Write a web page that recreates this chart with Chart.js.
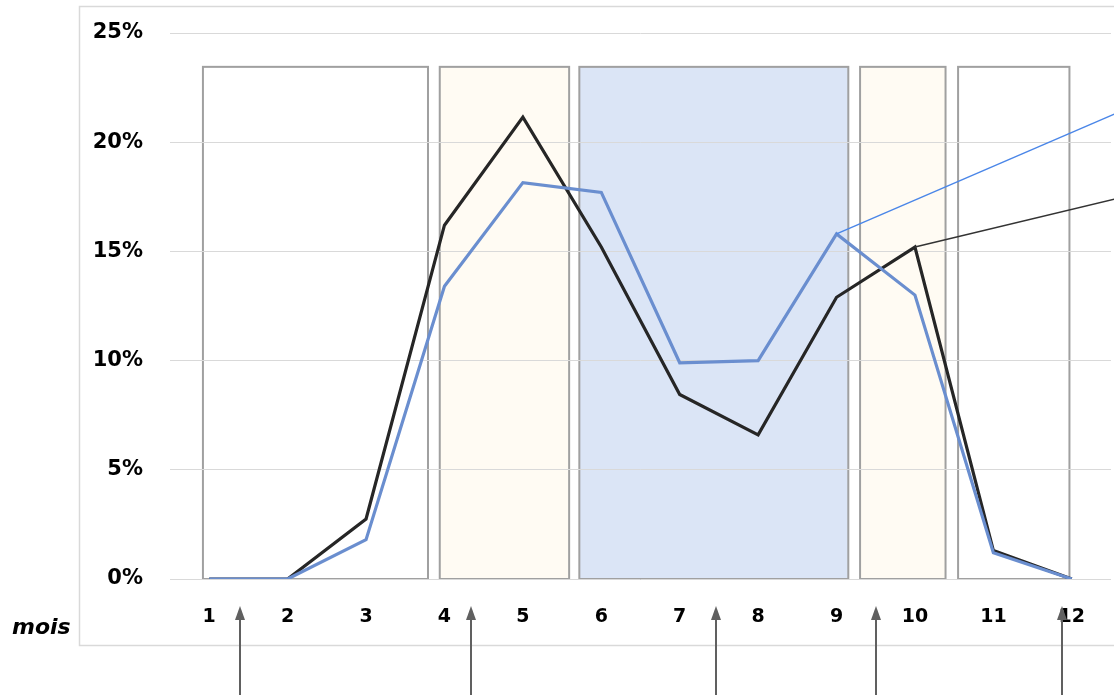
<!DOCTYPE html>
<html lang="fr">
<head>
<meta charset="UTF-8">
<title>Répartition mensuelle</title>
<style>
  html, body { margin: 0; padding: 0; background: #fff; }
  canvas { display: block; }
</style>
</head>
<body>
<canvas id="chart" width="1114" height="700"></canvas>

<script src="https://cdn.jsdelivr.net/npm/chart.js"></script>
<script>
// mois de l'année
const months = ['1', '2', '3', '4', '5', '6', '7', '8', '9', '10', '11', '12'];

// part mensuelle (%) des deux séries
const serieNoire = [0, 0, 2.75, 16.2, 21.15, 15.2, 8.45, 6.6, 12.9, 15.2, 1.3, 0];
const serieBleue = [0, 0, 1.8, 13.4, 18.15, 17.7, 9.9, 10.0, 15.8, 13.0, 1.2, 0];

const yTicks = [0, 5, 10, 15, 20, 25];

// périodes encadrées, en mois (début / fin) et leur teinte
const periodStart = [0.92, 3.94, 5.72, 9.30, 10.55];
const periodEnd   = [3.79, 5.59, 9.15, 10.39, 11.97];
const periodKind  = ['blanc', 'sable', 'bleu', 'sable', 'blanc'];
const periodTop = 23.45;

// flèches sous l'axe des mois
const arrowMonths = [1.39, 4.34, 7.46, 9.50, 11.87];

// traits de rappel : du point (mois, valeur) vers la marge droite
const leaderFrom  = [[9, 15.8], [10, 15.2]];
const leaderTo    = [[12.55, 21.3], [12.55, 17.4]];
const leaderColor = ['#4a86e8', '#333333'];

const fills = { blanc: '#ffffff', sable: '#fffbf3', bleu: '#dbe5f6' };

const xPix = (chart, m) => chart.scales.x.getPixelForValue(m - 1);
const yPix = (chart, v) => chart.scales.y.getPixelForValue(v);

// cadre + rectangles des périodes (sous la grille)
const periodsPlugin = {
    id: 'periods',
    beforeDraw(chart) {
        const ctx = chart.ctx;
        ctx.save();
        ctx.strokeStyle = '#d9d9d9';
        ctx.lineWidth = 1.5;
        ctx.strokeRect(79.5, 6.5, chart.width, chart.chartArea.bottom + 66 - 6);

        ctx.lineWidth = 2;
        ctx.strokeStyle = '#a0a0a0';
        periodStart.forEach((s, i) => {
            const x0 = xPix(chart, s);
            const x1 = xPix(chart, periodEnd[i]);
            const y0 = yPix(chart, periodTop);
            const y1 = yPix(chart, 0);
            ctx.fillStyle = fills[periodKind[i]];
            ctx.fillRect(x0, y0, x1 - x0, y1 - y0);
            ctx.strokeRect(x0, y0, x1 - x0, y1 - y0);
        });
        ctx.restore();
    },
    afterDraw(chart) {
        const ctx = chart.ctx;
        ctx.save();

        // traits de rappel
        ctx.lineWidth = 1.5;
        leaderFrom.forEach((p, i) => {
            ctx.strokeStyle = leaderColor[i];
            ctx.beginPath();
            ctx.moveTo(xPix(chart, p[0]), yPix(chart, p[1]));
            ctx.lineTo(xPix(chart, leaderTo[i][0]), yPix(chart, leaderTo[i][1]));
            ctx.stroke();
        });

        // flèches
        const tip = chart.chartArea.bottom + 27;
        const tail = chart.height - 5;
        ctx.strokeStyle = '#606060';
        ctx.fillStyle = '#606060';
        ctx.lineWidth = 2;
        arrowMonths.forEach(m => {
            const x = Math.round(xPix(chart, m));
            ctx.beginPath();
            ctx.moveTo(x, tail);
            ctx.lineTo(x, tip + 10);
            ctx.stroke();
            ctx.beginPath();
            ctx.moveTo(x, tip);
            ctx.lineTo(x - 5, tip + 14);
            ctx.lineTo(x + 5, tip + 14);
            ctx.closePath();
            ctx.fill();
        });

        // libellé de l'axe
        ctx.fillStyle = '#000';
        ctx.font = 'italic bold 22px "DejaVu Sans"';
        ctx.textAlign = 'left';
        ctx.textBaseline = 'middle';
        ctx.fillText('mois', 12, chart.chartArea.bottom + 49);
        ctx.restore();
    }
};

const ctx = document.getElementById('chart').getContext('2d');
const chart = new Chart(ctx, {
    type: 'line',
    data: {
        labels: months,
        datasets: [{
            label: 'bleu',
            data: serieBleue,
            borderColor: '#6a8ecf',
            borderWidth: 3.2,
            pointRadius: 0,
            tension: 0,
            order: 0
        }, {
            label: 'noir',
            data: serieNoire,
            borderColor: '#262626',
            borderWidth: 3.2,
            pointRadius: 0,
            tension: 0,
            order: 1
        }]
    },
    options: {
        responsive: false,
        animation: false,
        layout: { padding: { top: 33, right: 3, left: 0, bottom: 0 } },
        plugins: {
            legend: { display: false },
            tooltip: { enabled: false }
        },
        scales: {
            x: {
                offset: true,
                grid: { display: false },
                border: { display: false },
                ticks: {
                    color: '#000',
                    padding: 19,
                    font: { family: 'DejaVu Sans', weight: 'bold', size: 19 }
                },
                afterFit: s => { s.height = 121; }
            },
            y: {
                min: 0,
                max: 25,
                afterBuildTicks: s => { s.ticks = yTicks.map(v => ({ value: v })); },
                grid: { color: '#d9d9d9', lineWidth: 1, drawTicks: false },
                border: { display: false },
                ticks: {
                    color: '#000',
                    padding: 27,
                    font: { family: 'DejaVu Sans', weight: 'bold', size: 21 },
                    callback: v => v + '%'
                },
                afterFit: s => {
                    s.width = 170;
                    s.paddingTop = 0;
                    s.paddingBottom = 0;
                }
            }
        }
    },
    plugins: [periodsPlugin]
});
</script>
</body>
</html>
